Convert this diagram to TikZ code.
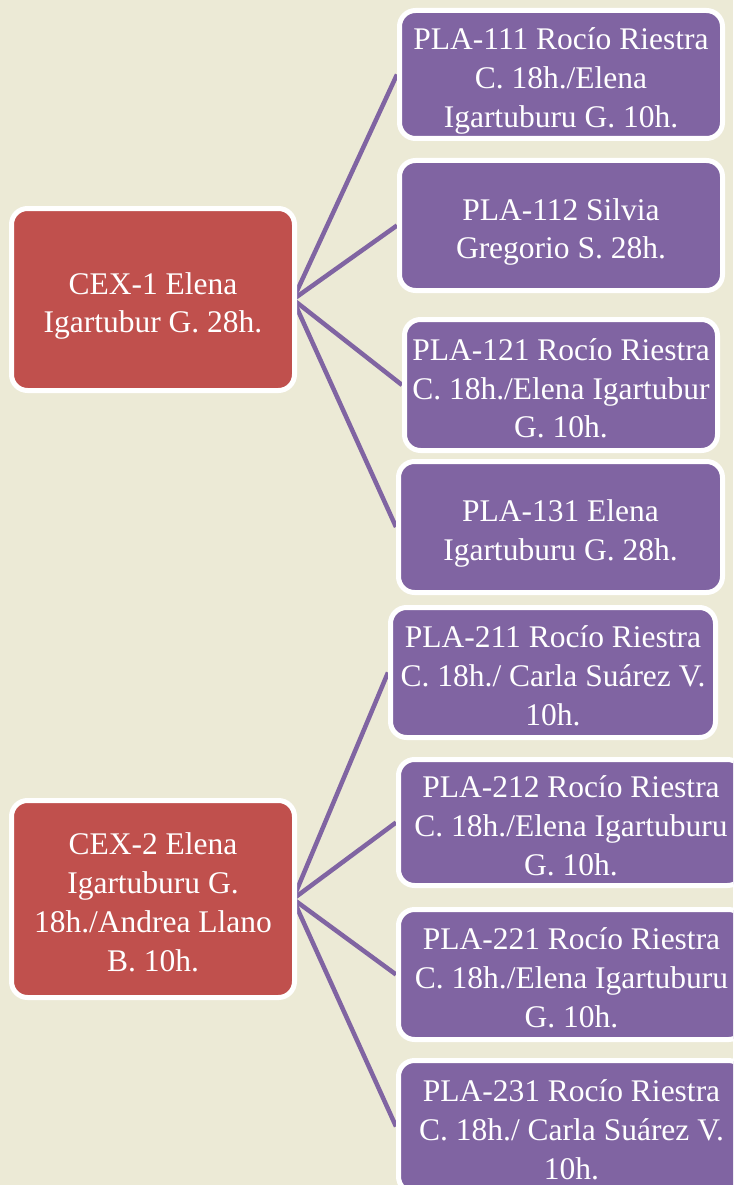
\documentclass[tikz,border=0pt]{standalone}
\usepackage{fontspec}
\setmainfont{Liberation Serif}
\usetikzlibrary{backgrounds}
\definecolor{bgc}{RGB}{236,234,214}
\definecolor{redc}{RGB}{192,80,77}
\definecolor{purc}{RGB}{128,100,162}
\newcommand\ts{\rule{0pt}{36pt}}
\newcommand\bs{\rule[-8pt]{0pt}{8pt}}
\tikzset{
  box/.style={draw=white, line width=5pt, rounded corners=16pt, inner sep=0pt,
    align=center, text=white, font=\fontsize{31.5}{38.7}\selectfont},
  cexbox/.style={box, fill=redc},
  plabox/.style={box, fill=purc},
  link/.style={draw=purc, line width=4.5pt}
}
\begin{document}
\begin{tikzpicture}[x=1pt,y=-1pt]
\useasboundingbox (0,0) rectangle (733,1185);
\clip (0,0) rectangle (733,1185);
\node[cexbox, minimum width=283pt, minimum height=182pt] (cex1) at (153,299.5) {\ts CEX-1 Elena\\Igartubur G. 28h.\bs};
\node[cexbox, minimum width=283pt, minimum height=197pt] (cex2) at (153,899) {\ts CEX-2 Elena\\Igartuburu G.\\18h./Andrea Llano\\B. 10h.\bs};
\node[plabox, minimum width=323pt, minimum height=128pt] (p111) at (561,74.5) {\ts PLA-111 Rocío Riestra\\C. 18h./Elena\\Igartuburu G. 10h.\bs};
\node[plabox, minimum width=323pt, minimum height=130pt] (p112) at (561,225.5) {\ts PLA-112 Silvia\\Gregorio S. 28h.\bs};
\node[plabox, minimum width=313pt, minimum height=131pt] (p121) at (561,385) {\ts PLA-121 Rocío Riestra\\C. 18h./Elena Igartubur\\G. 10h.\bs};
\node[plabox, minimum width=324pt, minimum height=131pt] (p131) at (560.5,527) {\ts PLA-131 Elena\\Igartuburu G. 28h.\bs};
\node[plabox, minimum width=325pt, minimum height=130pt] (p211) at (553,672.5) {\ts PLA-211 Rocío Riestra\\C. 18h./ Carla Suárez V.\\10h.\bs};
\node[plabox, minimum width=345pt, minimum height=126pt] (p212) at (571,822.5) {\ts PLA-212 Rocío Riestra\\C. 18h./Elena Igartuburu\\G. 10h.\bs};
\node[plabox, minimum width=346pt, minimum height=130pt] (p221) at (571.5,974.5) {\ts PLA-221 Rocío Riestra\\C. 18h./Elena Igartuburu\\G. 10h.\bs};
\node[plabox, minimum width=346pt, minimum height=132pt] (p231) at (571.5,1126.5) {\ts PLA-231 Rocío Riestra\\C. 18h./ Carla Suárez V.\\10h.\bs};
\begin{pgfonlayer}{background}
\fill[bgc] (0,0) rectangle (733,1185);
\coordinate (o1) at ([xshift=-4pt]cex1.east);
\coordinate (o2) at ([xshift=-4pt]cex2.east);
\foreach \t in {p111,p112,p121,p131} \draw[link] (o1) -- (\t.west);
\foreach \t in {p211,p212,p221,p231} \draw[link] (o2) -- (\t.west);
\end{pgfonlayer}
\end{tikzpicture}
\end{document}
